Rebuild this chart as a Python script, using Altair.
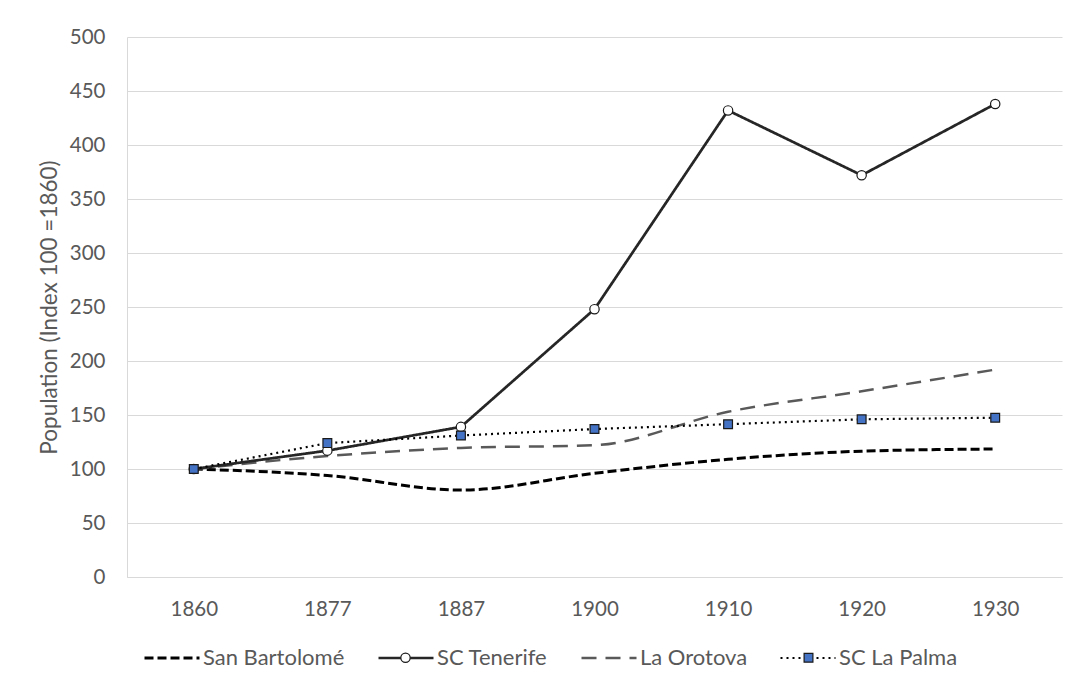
import altair as alt
import pandas as pd

years = ["1860", "1877", "1887", "1900", "1910", "1920", "1930"]
series_names = ["San Bartolomé", "SC Tenerife", "La Orotova", "SC La Palma"]
san_bartolome = [100, 94, 80.5, 96, 109, 116.5, 118.5]
sc_tenerife = [100, 117, 139, 248, 432, 372, 438]
la_orotova = [100, 112, 119.5, 122, 153, 172, 192]
sc_la_palma = [100, 124, 131, 137, 141.5, 146, 147.5]

values = [san_bartolome, sc_tenerife, la_orotova, sc_la_palma]
rows = []
for i, (name, vals) in enumerate(zip(series_names, values)):
    for yr, v in zip(years, vals):
        rows.append({"year": yr, "value": v, "series": name, "key": f"{i + 1}|{name}"})
df = pd.DataFrame(rows)

smooth_set = ["San Bartolomé", "La Orotova"]
df_smooth = df[df["series"].isin(smooth_set)]
df_linear = df[~df["series"].isin(smooth_set)]

line_colors = ["#000000", "#262626", "#595959", "#000000"]
line_dashes = [[9, 4], [1, 0], [15, 9], [2, 4]]
line_widths = [3, 2.2, 2.6, 2.5]

# invisible moves keep every legend symbol's bounds as wide as the line symbols
SPAN = "M-1.03,0M1.03,0"
CIRCLE = SPAN + "M0.17,0A0.17,0.17,0,1,1,-0.17,0A0.17,0.17,0,1,1,0.17,0Z"
SQUARE = SPAN + "M-0.16,-0.16H0.16V0.16H-0.16Z"
EMPTY = SPAN
shape_range = [EMPTY, CIRCLE, EMPTY, SQUARE]
fill_range = ["transparent", "#ffffff", "transparent", "#4472C4"]

SYM = 3025
LEG_X = 16
LEG_Y = 592
LEG_FONT = 22
COL_PAD = 28

x_enc = alt.X(
    "year:O",
    sort=years,
    scale=alt.Scale(padding=0.5),
    axis=alt.Axis(
        title=None, labelAngle=0, ticks=False, grid=False,
        domainColor="#d9d9d9", labelPadding=22,
    ),
)
y_enc = alt.Y(
    "value:Q",
    scale=alt.Scale(domain=[0, 500], nice=False),
    axis=alt.Axis(
        title="Population (Index 100 =1860)",
        values=list(range(0, 501, 50)),
        ticks=False, domainColor="#d9d9d9", gridColor="#d9d9d9",
        labelPadding=22, titlePadding=8,
    ),
)

line_legend = alt.Legend(
    title=None, orient="none", direction="horizontal",
    legendX=LEG_X, legendY=LEG_Y,
    symbolType="stroke", symbolSize=SYM, symbolStrokeWidth=2.5,
    labelOffset=2, columnPadding=COL_PAD, padding=0, labelFontSize=LEG_FONT,
)
color_enc = alt.Color("series:N", scale=alt.Scale(domain=series_names, range=line_colors), legend=line_legend)
dash_enc = alt.StrokeDash("series:N", scale=alt.Scale(domain=series_names, range=line_dashes), legend=line_legend)
width_enc = alt.StrokeWidth("series:N", scale=alt.Scale(domain=series_names, range=line_widths), legend=None)

smooth_lines = alt.Chart(df_smooth).mark_line(interpolate="monotone").encode(
    x=x_enc, y=y_enc, color=color_enc, strokeDash=dash_enc, strokeWidth=width_enc,
)
linear_lines = alt.Chart(df_linear).mark_line().encode(
    x=x_enc, y=y_enc, color=color_enc, strokeDash=dash_enc, strokeWidth=width_enc,
)

point_legend = alt.Legend(
    title=None, orient="none", direction="horizontal",
    legendX=LEG_X, legendY=LEG_Y,
    symbolSize=SYM, symbolStrokeWidth=1.2,
    labelOffset=4, columnPadding=COL_PAD, padding=0, labelOpacity=0,
    labelFontSize=LEG_FONT, labelExpr="split(datum.label, '|')[1]",
)
points = alt.Chart(df).mark_point(
    filled=True, strokeWidth=1.2, size=SYM, opacity=1,
).encode(
    x=x_enc, y=y_enc,
    stroke=alt.value("#1a1a1a"),
    shape=alt.Shape("key:N", scale=alt.Scale(range=shape_range), legend=point_legend),
    fill=alt.Fill("key:N", scale=alt.Scale(range=fill_range), legend=point_legend),
)

chart = alt.layer(smooth_lines, linear_lines, points).properties(
    width=935, height=540,
    autosize=alt.AutoSizeParams(type="none"),
    padding={"left": 119, "top": 29, "right": 1, "bottom": 97},
).configure(
    font="Lato",
).configure_axis(
    labelFont="Lato", labelFontSize=20.5, labelColor="#595959",
    titleFont="Lato", titleFontSize=22.5, titleColor="#595959", titleFontWeight="normal",
).configure_legend(
    labelFont="Lato", labelFontSize=LEG_FONT, labelColor="#595959",
).configure_view(
    stroke=None,
)

chart.save("out.html", embed_options={"renderer": "svg", "actions": False})
